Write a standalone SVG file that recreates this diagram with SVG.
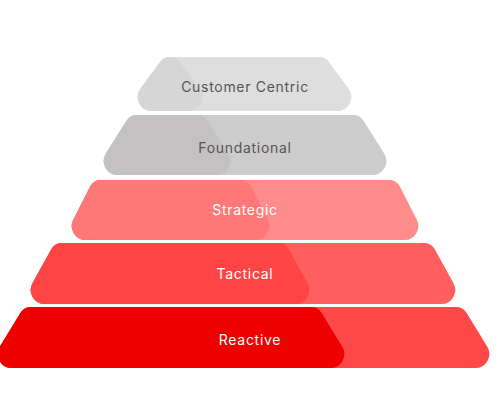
<svg xmlns="http://www.w3.org/2000/svg" width="500" height="400" viewBox="0 0 500 400">
<style>
.lbl{font-family:Inter,"Open Sans","Liberation Sans",sans-serif;font-size:14px;text-anchor:middle;letter-spacing:0.7px}
.dark{fill:#555555}
.light{fill:#ffffff}
</style>
<rect width="500" height="400" fill="#ffffff"/>
<g id="tier-customer-centric">
<path fill="#dedede" d="M169.8,57 L319.2,57 A12 12 0 0 1 329.5,62.8 L349.3,89.8 A14 14 0 0 1 337.3,111 L151.7,111 A14 14 0 0 1 139.7,89.8 L159.5,62.8 A12 12 0 0 1 169.8,57 Z"/>
<path fill="#d6d6d6" d="M169.8,57 L170.2,57 A12 12 0 0 1 180.5,62.8 L200.3,89.8 A14 14 0 0 1 188.3,111 L151.7,111 A14 14 0 0 1 139.7,89.8 L159.5,62.8 A12 12 0 0 1 169.8,57 Z"/>
<text class="lbl dark" x="245" y="92">Customer Centric</text>
</g>
<g id="tier-foundational">
<path fill="#cccccc" d="M136.8,115 L353.2,115 A12 12 0 0 1 363.5,120.8 L384.3,153.8 A14 14 0 0 1 372.3,175 L117.7,175 A14 14 0 0 1 105.7,153.8 L126.5,120.8 A12 12 0 0 1 136.8,115 Z"/>
<path fill="#c3c1c2" d="M136.8,115 L197.2,115 A12 12 0 0 1 207.5,120.8 L228.3,153.8 A14 14 0 0 1 216.3,175 L117.7,175 A14 14 0 0 1 105.7,153.8 L126.5,120.8 A12 12 0 0 1 136.8,115 Z"/>
<text class="lbl dark" x="245" y="153">Foundational</text>
</g>
<g id="tier-strategic">
<path fill="#ff8c8c" d="M100.8,180 L389.2,180 A12 12 0 0 1 399.5,185.8 L416.3,218.8 A14 14 0 0 1 404.3,240 L85.7,240 A14 14 0 0 1 73.7,218.8 L90.5,185.8 A12 12 0 0 1 100.8,180 Z"/>
<path fill="#ff7777" d="M100.8,180 L240.2,180 A12 12 0 0 1 250.5,185.8 L267.3,218.8 A14 14 0 0 1 255.3,240 L85.7,240 A14 14 0 0 1 73.7,218.8 L90.5,185.8 A12 12 0 0 1 100.8,180 Z"/>
<text class="lbl light" x="245" y="215">Strategic</text>
</g>
<g id="tier-tactical">
<path fill="#ff5f5f" d="M61.8,243 L424.2,243 A12 12 0 0 1 434.5,248.8 L453.3,282.8 A14 14 0 0 1 441.3,304 L44.7,304 A14 14 0 0 1 32.7,282.8 L51.5,248.8 A12 12 0 0 1 61.8,243 Z"/>
<path fill="#ff4444" d="M61.8,243 L278.2,243 A12 12 0 0 1 288.5,248.8 L307.3,282.8 A14 14 0 0 1 295.3,304 L44.7,304 A14 14 0 0 1 32.7,282.8 L51.5,248.8 A12 12 0 0 1 61.8,243 Z"/>
<text class="lbl light" x="245" y="279">Tactical</text>
</g>
<g id="tier-reactive">
<path fill="#ff4848" d="M30.8,307 L456.2,307 A12 12 0 0 1 466.5,312.8 L487.3,346.8 A14 14 0 0 1 475.3,368 L11.7,368 A14 14 0 0 1 -0.3,346.8 L20.5,312.8 A12 12 0 0 1 30.8,307 Z"/>
<path fill="#ee0000" d="M30.8,307 L311.2,307 A12 12 0 0 1 321.5,312.8 L342.3,346.8 A14 14 0 0 1 330.3,368 L11.7,368 A14 14 0 0 1 -0.3,346.8 L20.5,312.8 A12 12 0 0 1 30.8,307 Z"/>
<text class="lbl light" x="250" y="345">Reactive</text>
</g>
<g id="connectors"></g>
</svg>
